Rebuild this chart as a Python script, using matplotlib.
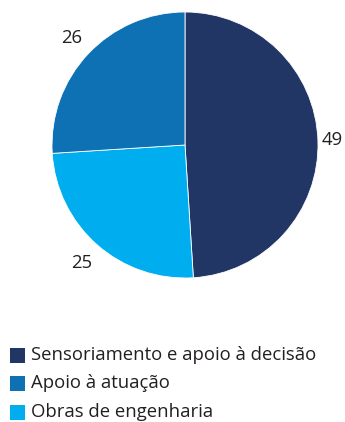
import matplotlib.pyplot as plt
from matplotlib.patches import Rectangle

plt.rcParams['font.family'] = ['Open Sans', 'DejaVu Sans']

# dados
categorias = ['Sensoriamento e apoio à decisão', 'Apoio à atuação', 'Obras de engenharia']
valores = [49, 26, 25]
cores = ['#213665', '#0d71b3', '#00aeef']

# ordem no gráfico (sentido horário a partir do topo): 49, 25, 26
ordem = [0, 2, 1]
# distância dos rótulos ao centro, por fatia
dist = [1.11, 1.17, 1.18]

W, H = 345, 422
fig = plt.figure(figsize=(W / 100, H / 100), dpi=100)

cx, cy, r = 185, 145, 133
ax = fig.add_axes([(cx - r) / W, (H - cy - r) / H, 2 * r / W, 2 * r / H])
wedges, textos = ax.pie([valores[i] for i in ordem],
                        colors=[cores[i] for i in ordem],
                        labels=[str(valores[i]) for i in ordem],
                        labeldistance=1.0, startangle=90, counterclock=False, radius=1,
                        wedgeprops=dict(edgecolor='white', linewidth=0.6),
                        textprops=dict(fontsize=13.3, color='#231f20'))
for t, i in zip(textos, ordem):
    x, y = t.get_position()
    t.set_position((x * dist[i], y * dist[i]))
    t.set_ha('center')
    t.set_va('center')
ax.set_xlim(-1, 1)
ax.set_ylim(-1, 1)
ax.set_aspect('equal')
ax.axis('off')

# legenda manual
y0, dy = 355, 28.5
for k, (nome, cor) in enumerate(zip(categorias, cores)):
    yc = y0 + k * dy
    fig.patches.append(Rectangle((10 / W, (H - yc - 7.5) / H), 15 / W, 15 / H,
                                 transform=fig.transFigure, facecolor=cor,
                                 edgecolor='none'))
    fig.text(31 / W, (H - yc) / H, nome, fontsize=13.3, color='#231f20',
             va='center', ha='left')

fig.savefig('out.png', dpi=100)
